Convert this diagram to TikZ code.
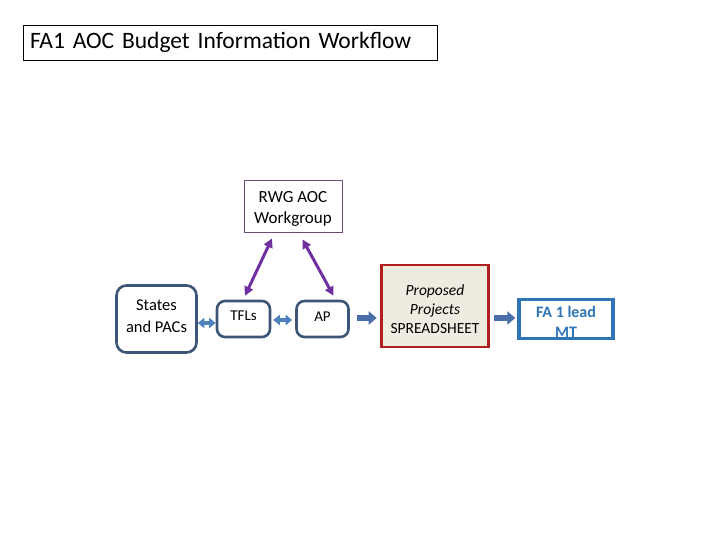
\documentclass[tikz,border=0pt]{standalone}
\usepackage{fontspec}
\setmainfont{Carlito}
\usetikzlibrary{arrows.meta}
\definecolor{boxblue}{HTML}{3D5677}
\definecolor{dblblue}{HTML}{4F81BD}
\definecolor{blockblue}{HTML}{4A6EA8}
\definecolor{fablue}{HTML}{2E75B6}
\definecolor{sheetred}{HTML}{B01E1E}
\definecolor{sheetfill}{HTML}{EEECE1}
\definecolor{purp}{HTML}{7030A0}
\definecolor{rwgline}{HTML}{6B4C7A}
\tikzset{
  x=1pt,y=-1pt,
  titlebox/.style={draw=black,line width=0.8pt,minimum height=35pt,text width=400pt,inner xsep=7pt,align=left,
    font=\fontsize{23.5}{28}\selectfont},
  rwgbox/.style={draw=rwgline,line width=0.8pt,minimum width=98pt,minimum height=52pt,inner sep=0pt},
  roundbox/.style={draw=boxblue,line width=2.6pt,rounded corners=8pt,align=center,inner sep=0pt},
  sheetbox/.style={draw=sheetred,fill=sheetfill,line width=2.6pt,minimum width=107pt,minimum height=82pt,inner sep=0pt},
  txt/.style={align=center,inner sep=0pt},
  fabox/.style={draw=fablue,line width=2.4pt,minimum width=93pt,minimum height=38pt,inner sep=0pt},
  fatext/.style={text=fablue,align=center,inner sep=0pt,font=\bfseries\fontsize{16}{20}\selectfont},
  dbl/.style={draw=dblblue,line width=3.5pt,{Triangle[width=10pt,length=6.5pt]}-{Triangle[width=10pt,length=6.5pt]}},
  blockarr/.style={draw=blockblue,line width=6pt,-{Triangle[width=13pt,length=8pt]}},
  purparr/.style={draw=purp,line width=3pt,{Triangle[width=9pt,length=9pt]}-{Triangle[width=9pt,length=9pt]}}
}
\begin{document}
\begin{tikzpicture}
\fill[white] (0,0) rectangle (720,540);
\useasboundingbox (0,0) rectangle (720,540);

\node[titlebox] (title) at (230,42.5) {FA1 AOC Budget Information Workflow};

\node[rwgbox] (rwg) at (293,206) {};
\node[txt,font=\fontsize{17}{20.7}\selectfont] (rwgt) at ([yshift=-3pt]rwg.center) {RWG AOC\\Workgroup};

\node[roundbox,rounded corners=10pt,minimum width=80pt,minimum height=67pt] (states) at (156.5,319) {};
\node[txt,font=\fontsize{16.5}{22}\selectfont] (statest) at ([yshift=3pt]states.center) {States\\and PACs};
\node[roundbox,minimum width=53pt,minimum height=36pt,font=\fontsize{15}{18}\selectfont] (tfls) at (243.5,319) {\raisebox{6pt}{TFLs}};
\node[roundbox,minimum width=52pt,minimum height=36pt,font=\fontsize{15}{18}\selectfont] (ap) at (322.5,319) {\raisebox{5pt}{AP}};

\node[sheetbox] (sheet) at (435,306) {};
\node[txt,font=\fontsize{15.5}{19}\selectfont] (sheett) at ([yshift=-3pt]sheet.center) {\itshape Proposed\\\itshape Projects\\SPREADSHEET};

\node[fabox] (fa) at (566,319) {};
\begin{scope}
\clip (fa.south west) rectangle (fa.north east);
\node[fatext] (fatxt) at ([yshift=-2.5pt]fa.center) {FA 1 lead\\MT};
\end{scope}
\draw[fablue,line width=2.4pt] (fa.south west) rectangle (fa.north east);

% connectors
\draw[dbl] ([yshift=-4pt]states.east) -- ([yshift=-4pt]tfls.west);
\draw[dbl,shorten <=2pt,shorten >=3pt] ([yshift=-1pt]tfls.east) -- ([yshift=-1pt]ap.west);
\draw[blockarr,shorten <=7.5pt,shorten >=3.5pt] ([yshift=1pt]ap.east) -- ([yshift=1pt]ap.east -| sheet.west);
\draw[blockarr,shorten <=4.5pt,shorten >=3pt] ([yshift=1pt]sheet.east |- fa.center) -- ([yshift=1pt]fa.west);

\draw[purparr] ([shift={(1.5pt,4pt)}]tfls.north) -- ([shift={(-21pt,-6pt)}]rwg.south);
\draw[purparr] ([shift={(9.5pt,-7pt)}]rwg.south) -- ([shift={(11pt,4pt)}]ap.north);
\end{tikzpicture}
\end{document}
